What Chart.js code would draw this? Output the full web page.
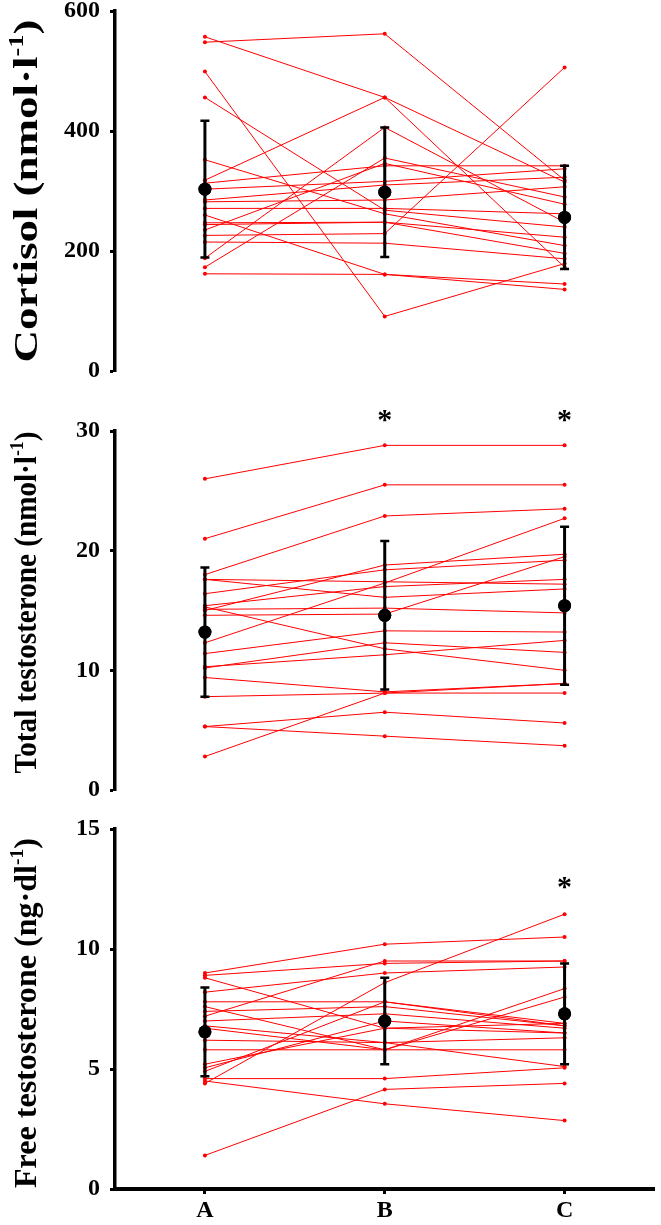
<!DOCTYPE html>
<html>
<head>
<meta charset="utf-8">
<script src="https://cdn.jsdelivr.net/npm/chart.js@4.4.1/dist/chart.umd.min.js"></script>
<style>
  html, body { margin: 0; padding: 0; background: #fff; }
  #wrap { position: relative; width: 661px; height: 1225px; overflow: hidden; }
  #wrap canvas { position: absolute; left: 0; }
</style>
</head>
<body>
<div id="wrap">
  <canvas id="chart-cortisol" width="661" height="411" style="top:-20px"></canvas>
  <canvas id="chart-total" width="661" height="415" style="top:395px"></canvas>
  <canvas id="chart-free" width="661" height="420" style="top:805px"></canvas>
</div>
<script>
/* ============================================================
   Cortisol / testosterone — individual responses A → B → C
   ============================================================ */

// ---- Data ----

const groups = ['A', 'B', 'C'];

// one row per subject: [A, B, C]
const cortisolSubjects = [
  [548, 562, 318], [557, 456, 315], [318, 456, 173], [499, 91, 179],
  [456, 268, 240], [352, 262, 209], [188, 406, 248], [173, 355, 290],
  [226, 229, 506], [162, 161, 145], [260, 161, 136], [313, 342, 342],
  [303, 316, 337], [285, 310, 323], [282, 285, 307], [271, 271, 262],
  [247, 248, 223], [244, 248, 196], [215, 213, 187], [235, 346, 278]
];
const cortisolMean = [303, 298, 256];
const cortisolSD = [114, 108, 86];
const cortisolStars = ['', '', ''];

const totalTSubjects = [
  [26.0, 28.8, 28.8], [21.0, 25.5, 25.5], [18.0, 22.9, 23.5], [17.6, 17.4, 17.2],
  [17.6, 16.1, 16.8], [16.4, 18.4, 19.2], [15.4, 17.0, 17.6], [15.3, 11.8, 10.0],
  [15.1, 15.2, 14.8], [14.6, 14.7, 19.5], [15.0, 18.8, 19.7], [12.3, 17.3, 22.7],
  [11.4, 13.3, 13.2], [10.3, 11.3, 12.5], [10.2, 12.3, 11.5], [9.4, 8.2, 8.9],
  [7.8, 8.1, 8.1], [2.8, 8.1, 8.9], [5.3, 6.5, 5.6], [5.3, 4.5, 3.7]
];
const totalTMean = [13.2, 14.6, 15.4];
const totalTSD = [5.4, 6.2, 6.6];
const totalTStars = ['', '*', '*'];

const freeTSubjects = [
  [9.0, 10.2, 10.5], [8.9, 9.4, 9.5], [8.8, 6.7, 6.5], [8.2, 9.0, 9.25],
  [7.8, 7.8, 6.9], [7.6, 5.8, 5.8], [7.4, 7.6, 6.8], [7.2, 9.5, 9.5],
  [7.0, 7.3, 6.7], [6.8, 6.1, 6.3], [6.7, 5.8, 8.0], [6.2, 6.1, 5.1],
  [5.8, 5.8, 8.35], [5.2, 6.7, 6.9], [4.9, 7.8, 6.8], [4.4, 8.6, 11.45],
  [4.6, 4.6, 5.05], [4.5, 3.55, 2.85], [1.4, 4.15, 4.4], [5.05, 7.0, 6.5]
];
const freeTMean = [6.55, 7.0, 7.3];
const freeTSD = [1.85, 1.8, 2.1];
const freeTStars = ['', '', '*'];

// ---- Defaults ----

const SERIF = '"Liberation Serif", "Times New Roman", serif';
Chart.defaults.font.family = SERIF;
Chart.defaults.font.weight = 'bold';
Chart.defaults.color = '#000';

// ---- Plugins ----

// SD bars + caps, drawn over the red subject lines
const errorBarPlugin = {
  id: 'errorBars',
  afterDatasetsDraw(chart, args, opts) {
    const { ctx, scales: { x, y } } = chart;
    ctx.save();
    ctx.strokeStyle = '#000';
    ctx.fillStyle = '#000';
    opts.mean.forEach((m, i) => {
      const px = x.getPixelForValue(i + 1);
      const top = y.getPixelForValue(m + opts.sd[i]);
      const bot = y.getPixelForValue(m - opts.sd[i]);
      ctx.lineWidth = 3;
      ctx.beginPath();
      ctx.moveTo(px, top);
      ctx.lineTo(px, bot);
      ctx.stroke();
      ctx.lineWidth = 2.5;
      ctx.beginPath();
      ctx.moveTo(px - 4.5, top); ctx.lineTo(px + 4.5, top);
      ctx.moveTo(px - 4.5, bot); ctx.lineTo(px + 4.5, bot);
      ctx.stroke();
      ctx.beginPath();
      ctx.arc(px, y.getPixelForValue(m), 6.5, 0, Math.PI * 2);
      ctx.fill();
    });
    ctx.restore();
  }
};

// significance asterisks above a group
const starPlugin = {
  id: 'stars',
  afterDraw(chart, args, opts) {
    if (!opts.marks) return;
    const { ctx, scales: { x, y } } = chart;
    ctx.save();
    ctx.font = `bold 30px ${SERIF}`;
    ctx.textAlign = 'center';
    ctx.textBaseline = 'alphabetic';
    ctx.fillStyle = '#000';
    opts.marks.forEach((mark, i) => {
      if (!mark) return;
      ctx.fillText(mark, x.getPixelForValue(i + 1), y.getPixelForValue(opts.at) + 14);
    });
    ctx.restore();
  }
};

// rotated y title with a real superscript
const sideTitlePlugin = {
  id: 'sideTitle',
  afterDraw(chart, args, opts) {
    if (!opts.parts) return;
    const { ctx, chartArea } = chart;
    const size = opts.size;
    const mainFont = `bold ${size}px ${SERIF}`;
    const supFont = `bold ${Math.round(size * 0.6)}px ${SERIF}`;
    ctx.save();
    const widths = opts.parts.map(p => {
      ctx.font = p.sup ? supFont : mainFont;
      return ctx.measureText(p.text).width;
    });
    const total = widths.reduce((a, b) => a + b, 0);
    const stretch = opts.length ? opts.length / total : 1;
    ctx.translate(opts.baseline, (chartArea.top + chartArea.bottom) / 2 + (opts.shift || 0));
    ctx.rotate(-Math.PI / 2);
    ctx.scale(stretch, 1);
    ctx.fillStyle = '#000';
    ctx.textBaseline = 'alphabetic';
    let u = -total / 2;
    opts.parts.forEach((p, i) => {
      ctx.font = p.sup ? supFont : mainFont;
      ctx.fillText(p.text, u, p.sup ? -size * 0.42 : 0);
      u += widths[i];
    });
    ctx.restore();
  }
};

// ---- Panel builder ----

function makePanel(canvasId, cfg) {
  const canvas = document.getElementById(canvasId);

  const subjectSets = cfg.subjects.map(row => ({
    data: row.map((v, i) => ({ x: i + 1, y: v })),
    showLine: true,
    borderColor: '#f00',
    borderWidth: 1,
    pointRadius: 2,
    pointBackgroundColor: '#f00',
    pointBorderWidth: 0,
    order: 1
  }));

  const meanSet = {
    data: cfg.mean.map((v, i) => ({ x: i + 1, y: v })),
    showLine: false,
    pointRadius: 6.5,
    pointBackgroundColor: '#000',
    pointBorderWidth: 0,
    order: 0
  };

  return new Chart(canvas, {
    type: 'scatter',
    data: { datasets: [meanSet, ...subjectSets] },
    options: {
      responsive: false,
      animation: false,
      devicePixelRatio: 1,
      layout: { padding: { top: cfg.padTop, bottom: cfg.padBottom, left: 0, right: 5 } },
      plugins: {
        legend: { display: false },
        tooltip: { enabled: false },
        errorBars: { mean: cfg.mean, sd: cfg.sd },
        stars: { marks: cfg.stars, at: cfg.starAt },
        sideTitle: cfg.title
      },
      scales: {
        x: {
          type: 'linear',
          min: 0.5,
          max: 3.5,
          display: cfg.showX,
          afterBuildTicks: s => { s.ticks = groups.map((g, i) => ({ value: i + 1 })); },
          afterFit: s => { s.height = cfg.showX ? 36 : 0; },
          ticks: {
            autoSkip: false,
            maxRotation: 0,
            padding: 5,
            font: { size: 24, weight: 'bold', lineHeight: 1 },
            callback: v => groups[v - 1]
          },
          grid: { drawOnChartArea: false, drawTicks: true, tickLength: 5, tickWidth: 3, color: '#000' },
          border: { display: true, width: 4, color: '#000' }
        },
        y: {
          min: 0,
          max: cfg.max,
          afterFit: s => { s.width = 115; },
          ticks: {
            stepSize: cfg.step,
            padding: 10,
            font: { size: 24, weight: 'bold', lineHeight: 0.8 }
          },
          grid: { drawOnChartArea: false, drawTicks: true, tickLength: 5, tickWidth: 3, color: '#000' },
          border: { display: true, width: 3.5, color: '#000' }
        }
      }
    },
    plugins: [errorBarPlugin, starPlugin, sideTitlePlugin]
  });
}

// ---- Panels ----

makePanel('chart-cortisol', {
  subjects: cortisolSubjects, mean: cortisolMean, sd: cortisolSD,
  stars: cortisolStars, starAt: 640,
  max: 600, step: 200, padTop: 31, padBottom: 20, showX: false,
  title: { parts: [{ text: 'Cortisol (nmol·l' }, { text: '-1', sup: true }, { text: ')' }],
           size: 34, baseline: 37, length: 343, shift: 0 }
});

makePanel('chart-total', {
  subjects: totalTSubjects, mean: totalTMean, sd: totalTSD,
  stars: totalTStars, starAt: 31.3,
  max: 30, step: 10, padTop: 36, padBottom: 20, showX: false,
  title: { parts: [{ text: 'Total testosterone (nmol·l' }, { text: '-1', sup: true }, { text: ')' }],
           size: 31, baseline: 36, length: 342, shift: -8 }
});

makePanel('chart-free', {
  subjects: freeTSubjects, mean: freeTMean, sd: freeTSD,
  stars: freeTStars, starAt: 12.8,
  max: 15, step: 5, padTop: 24, padBottom: 0, showX: true,
  title: { parts: [{ text: 'Free testosterone (ng·dl' }, { text: '-1', sup: true }, { text: ')' }],
           size: 31, baseline: 36, length: 350, shift: 4 }
});
</script>
</body>
</html>
